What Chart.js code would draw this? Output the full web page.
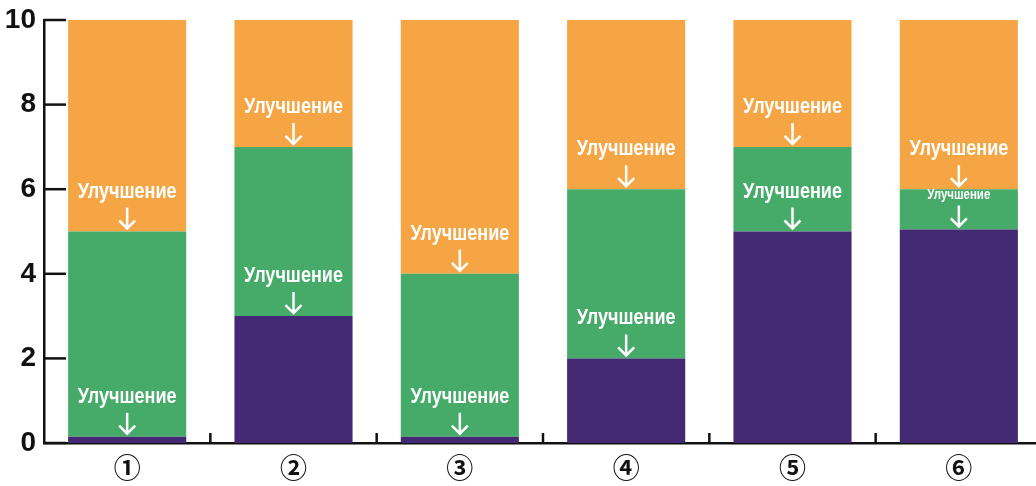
<!DOCTYPE html>
<html>
<head>
<meta charset="utf-8">
<script src="https://cdn.jsdelivr.net/npm/chart.js@4/dist/chart.umd.min.js"></script>
<style>
  html, body { margin: 0; padding: 0; background: #fff; overflow: hidden; }
  #wrap { width: 1036px; height: 486px; overflow: hidden; }
</style>
</head>
<body>
<div id="wrap"><canvas id="c" width="1044" height="486"></canvas></div>
<script>
// данные
var categories = ['①', '②', '③', '④', '⑤', '⑥'];
var purpleVals = [0.15, 3, 0.15, 2, 5, 5.05];
var greenVals = [4.85, 4, 3.85, 4, 2, 0.95];
var orangeVals = [5, 3, 6, 4, 3, 4];
var yTicks = [0, 2, 4, 6, 8, 10];
var noteText = 'Улучшение';

var sans = "'Liberation Sans', Arial, sans-serif";

// метки осей (засечки внутрь)
var tickMarks = {
    id: 'tickMarks',
    afterDraw: function (chart) {
        var ctx = chart.ctx;
        var x = chart.scales.x, y = chart.scales.y;
        var area = chart.chartArea;
        ctx.save();
        ctx.strokeStyle = '#111';
        ctx.lineWidth = 2.5;
        yTicks.forEach(function (v) {
            var py = y.getPixelForValue(v);
            ctx.beginPath();
            ctx.moveTo(area.left, py);
            ctx.lineTo(area.left + 22, py);
            ctx.stroke();
        });
        for (var i = 1; i < categories.length; i++) {
            var px = (x.getPixelForValue(i - 1) + x.getPixelForValue(i)) / 2;
            ctx.beginPath();
            ctx.moveTo(px, area.bottom);
            ctx.lineTo(px, area.bottom - 10);
            ctx.stroke();
        }
        ctx.restore();
    }
};

// подписи "Улучшение" со стрелками (узкий шрифт через scale)
function drawNote(ctx, cx, tipY, small) {
    ctx.fillStyle = '#fff';
    ctx.strokeStyle = '#fff';
    ctx.lineWidth = 2.5;
    ctx.textAlign = 'center';
    ctx.textBaseline = 'middle';
    var ty = small ? tipY - 34 : tipY - 40;
    ctx.save();
    ctx.translate(cx, ty);
    ctx.scale(0.82, 1);
    ctx.font = (small ? 'bold 14px ' : 'bold 22px ') + sans;
    ctx.fillText(noteText, 0, 0);
    ctx.restore();
    var top = tipY - 24;
    ctx.beginPath();
    ctx.moveTo(cx, top);
    ctx.lineTo(cx, tipY - 3);
    ctx.moveTo(cx - 8, tipY - 11);
    ctx.lineTo(cx, tipY - 3);
    ctx.lineTo(cx + 8, tipY - 11);
    ctx.stroke();
}

var notes = {
    id: 'notes',
    afterDatasetsDraw: function (chart) {
        var ctx = chart.ctx;
        var x = chart.scales.x, y = chart.scales.y;
        ctx.save();
        for (var i = 0; i < categories.length; i++) {
            var cx = x.getPixelForValue(i);
            var g = purpleVals[i] + greenVals[i];
            drawNote(ctx, cx, y.getPixelForValue(g), false);
            drawNote(ctx, cx, y.getPixelForValue(purpleVals[i]), greenVals[i] < 1.5);
        }
        ctx.restore();
    }
};

var config = {
    type: 'bar',
    data: {
        labels: categories,
        datasets: [
            { data: purpleVals, backgroundColor: '#432873' },
            { data: greenVals, backgroundColor: '#46aa69' },
            { data: orangeVals, backgroundColor: '#f5a544' }
        ]
    },
    options: {
        responsive: false,
        animation: false,
        layout: { padding: { top: 20, right: 2, left: 0, bottom: 0 } },
        datasets: { bar: { barPercentage: 0.71, categoryPercentage: 1, borderWidth: 0 } },
        plugins: { legend: { display: false }, tooltip: { enabled: false } },
        scales: {
            x: {
                stacked: true,
                grid: { display: false, drawTicks: false },
                border: { display: true, color: '#111', width: 2.5 },
                ticks: { color: '#111', padding: 9, font: { size: 27, weight: 'bold', family: "'Noto Sans CJK JP', 'DejaVu Sans', sans-serif" } },
                afterFit: function (s) { s.height = 43; }
            },
            y: {
                stacked: true,
                min: 0,
                max: 10,
                grid: { display: false, drawTicks: false },
                border: { display: true, color: '#111', width: 2.5 },
                ticks: { stepSize: 2, color: '#111', padding: 8, font: { size: 28, weight: 'bold', family: sans } },
                afterFit: function (s) { s.width = 44; s.paddingTop = 0; s.paddingBottom = 0; }
            }
        }
    },
    plugins: [tickMarks, notes]
};

var chart = new Chart(document.getElementById('c').getContext('2d'), config);
</script>
</body>
</html>
